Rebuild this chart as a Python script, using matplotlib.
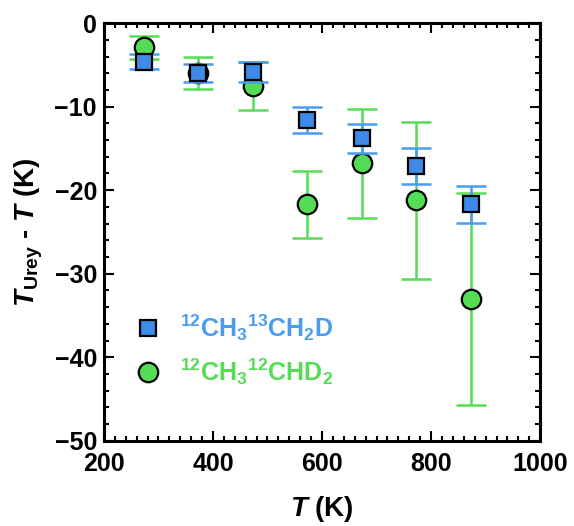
import matplotlib

matplotlib.use("Agg")
import matplotlib.pyplot as plt
from matplotlib.ticker import MultipleLocator

plt.rcParams["font.family"] = ["Liberation Sans", "DejaVu Sans"]
plt.rcParams["font.weight"] = "bold"
plt.rcParams["mathtext.fontset"] = "custom"
plt.rcParams["mathtext.rm"] = "Liberation Sans:bold"
plt.rcParams["mathtext.it"] = "Liberation Sans:bold:italic"
plt.rcParams["mathtext.bf"] = "Liberation Sans:bold"
plt.rcParams["mathtext.bfit"] = "Liberation Sans:bold:italic"

# temperaturas (K)
T = [273, 373, 473, 573, 673, 773, 873]

# 12CH3-13CH2D
dT_13c = [-4.6, -6.0, -5.8, -11.6, -13.8, -17.1, -21.7]
err_13c = [0.9, 1.05, 1.2, 1.6, 1.7, 2.1, 2.2]

# 12CH3-12CHD2
dT_d2 = [-2.9, -5.95, -7.5, -21.7, -16.8, -21.2, -33.0]
err_d2 = [1.35, 1.95, 2.9, 4.05, 6.5, 9.4, 12.7]

BLUE_FACE = "#3f8ae8"
BLUE_BAR = "#4a9cf2"
GREEN = "#55dc55"

lab_13c = r"$^{12}$CH$_{3}$$^{13}$CH$_{2}$D"
lab_d2 = r"$^{12}$CH$_{3}$$^{12}$CHD$_{2}$"

fig = plt.figure(figsize=(5.74, 5.26), dpi=100)
ax = fig.add_axes([0.181, 0.162, 0.760, 0.794])

# verde primeiro (fica por baixo)
ax.errorbar(T, dT_d2, yerr=err_d2, fmt="none", ecolor=GREEN, elinewidth=1.8,
            capsize=11, capthick=1.8, zorder=2)
ax.plot(T, dT_d2, "o", ms=14, mfc=GREEN, mec="black", mew=1.6, ls="none",
        label=lab_d2, zorder=3)
ax.errorbar(T, dT_13c, yerr=err_13c, fmt="none", ecolor=BLUE_BAR, elinewidth=1.8,
            capsize=11, capthick=1.8, zorder=4)
ax.plot(T, dT_13c, "s", ms=12, mfc=BLUE_FACE, mec="black", mew=1.6, ls="none",
        label=lab_13c, zorder=5)

ax.set_xlim(200, 1000)
ax.set_ylim(-50, 0)
ax.xaxis.set_major_locator(MultipleLocator(200))
ax.xaxis.set_minor_locator(MultipleLocator(20))
ax.yaxis.set_major_locator(MultipleLocator(10))
ax.yaxis.set_minor_locator(MultipleLocator(2))
ax.tick_params(which="both", direction="in", top=True, right=True, width=1.5,
               labelsize=18)
ax.tick_params(which="major", length=7)
ax.tick_params(which="minor", length=3.5)
ax.tick_params(axis="x", pad=8)
ax.tick_params(axis="y", pad=5)
for s in ax.spines.values():
    s.set_linewidth(2.2)

ax.set_xlabel(r"$\mathbfit{T}$ (K)", fontsize=20, fontweight="bold", labelpad=13)
ax.set_ylabel(r"$\mathbfit{T}_{\mathbf{Urey}}$ - $\mathbfit{T}$ (K)", fontsize=20,
              fontweight="bold", labelpad=7)

handles, labels = ax.get_legend_handles_labels()
leg = ax.legend(handles[::-1], labels[::-1], loc="lower left",
                bbox_to_anchor=(0.02, 0.075), frameon=False, fontsize=18,
                handletextpad=0.8, labelspacing=0.55, handlelength=1.0)
for txt, c in zip(leg.get_texts(), [BLUE_BAR, GREEN]):
    txt.set_color(c)
    txt.set_fontweight("bold")

fig.savefig("out.png", dpi=100)
